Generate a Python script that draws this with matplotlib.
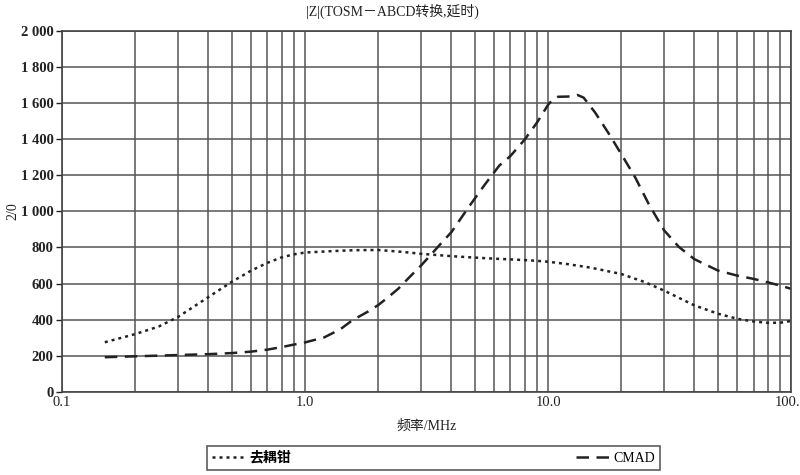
import numpy as np
import matplotlib
matplotlib.use("Agg")
import matplotlib.pyplot as plt
from matplotlib.ticker import FixedLocator, FixedFormatter, NullFormatter

plt.rcParams['font.family'] = ['Liberation Serif', 'Noto Sans CJK SC', 'DejaVu Sans']

# readings from the reference (frequency in MHz, |Z| in ohm)
clamp_f = [0.15, 0.2, 0.25, 0.3, 0.4, 0.5, 0.6, 0.7, 0.8, 0.9, 1.0, 1.3, 1.6, 2.0,
           2.5, 3.0, 4.0, 4.7, 6.0, 7.0, 8.0, 9.0, 10, 12, 15, 20, 25, 30, 40, 50,
           60, 70, 80, 90, 100]
clamp_z = [275, 320, 362, 415, 525, 610, 672, 715, 745, 762, 772, 780, 785, 786,
           776, 765, 752, 746, 738, 734, 730, 726, 721, 708, 688, 653, 608, 561, 479, 433,
           405, 390, 383, 383, 393]

cmad_f = [0.15, 0.2, 0.3, 0.4, 0.5, 0.6, 0.7, 0.8, 0.9, 1.0, 1.2, 1.4, 1.57, 1.8, 2.0,
          2.2, 2.42, 2.7, 3.0, 3.3, 3.6, 4.0, 4.7, 5.5, 6.3, 7.0, 8.0, 9.0, 10, 10.5,
          11, 12, 12.5, 13.2, 14, 15.6, 17.8, 20, 22.8, 25.9, 30, 34.5, 40, 50, 60,
          70, 80, 90, 100]
cmad_z = [192, 197, 204, 209, 215, 223, 234, 248, 262, 274, 302, 348, 398, 442, 481,
          525, 572, 638, 700, 761, 818, 885, 1022, 1150, 1254, 1307, 1397, 1492, 1591, 1622,
          1635, 1636, 1638, 1645, 1630, 1548, 1429, 1317, 1189, 1042, 895, 803, 735, 672, 644,
          626, 607, 589, 571]

y_ticks = [0, 200, 400, 600, 800, 1000, 1200, 1400, 1600, 1800, 2000]
y_labels = ["0", "200", "400", "600", "800", "1 000", "1 200", "1 400", "1 600", "1 800", "2 000"]
x_ticks = [0.1, 1.0, 10.0, 100.0]
x_labels = ["0.1", "1.0", "10.0", "100.0"]

fig = plt.figure(figsize=(8, 4.75), dpi=100)
ax = fig.add_axes([0.0775, 0.175, 0.9115, 0.760])

ax.plot(clamp_f, clamp_z, color='#222222', lw=1.8, ls=(0, (1.2, 1.6)), label='去耦钳')
ax.plot(cmad_f, cmad_z, color='#222222', lw=1.8, ls=(0, (5, 3)), label='CMAD')

ax.set_xscale('log')
ax.set_xlim(0.1, 100)
ax.set_ylim(0, 2000)

ax.xaxis.set_major_locator(FixedLocator(x_ticks))
ax.xaxis.set_major_formatter(FixedFormatter(x_labels))
minor = [m * d for d in (0.1, 1, 10) for m in range(2, 10)]
ax.xaxis.set_minor_locator(FixedLocator(minor))
ax.xaxis.set_minor_formatter(NullFormatter())
ax.yaxis.set_major_locator(FixedLocator(y_ticks))
ax.yaxis.set_major_formatter(FixedFormatter(y_labels))

ax.grid(True, which='both', color='#555555', lw=1.1)
ax.tick_params(axis='x', which='both', length=0, labelsize=10.5, pad=3, colors='#222222')
ax.tick_params(axis='y', length=4, labelsize=10.5, pad=2, colors='#222222', width=1)
for lab in ax.get_yticklabels():
    lab.set_fontweight('bold')
for s in ax.spines.values():
    s.set_color('#444444')
    s.set_linewidth(1.2)

ax.set_xlabel('频率/MHz', fontsize=10, labelpad=8, color='#222222')
ax.set_ylabel('2/0', fontsize=10, color='#222222', va='center')
ax.yaxis.set_label_coords(-0.067, 0.5)
fig.text(0.49, 0.975, '|Z|(TOSM－ABCD转换,延时)', ha='center', va='center',
         fontsize=10, color='#222222')

leg = fig.legend(loc='center', bbox_to_anchor=(0.542, 0.036), ncol=2,
                 frameon=True, fancybox=False, edgecolor='#333333',
                 columnspacing=20.5, handlelength=2.4, handletextpad=0.3,
                 fontsize=10, borderpad=0.35)
leg.get_frame().set_linewidth(1.2)
leg.get_texts()[0].set_fontweight('bold')

fig.savefig('out.png', dpi=100)
